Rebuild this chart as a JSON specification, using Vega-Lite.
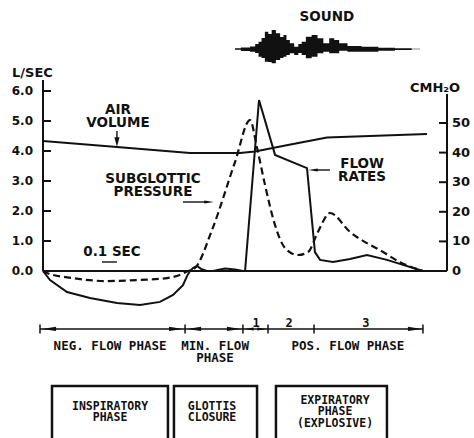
{
  "$schema": "https://vega.github.io/schema/vega-lite/v6.json",
  "width": 404,
  "height": 438,
  "autosize": {"type": "none"},
  "padding": {"left": 43, "right": 27, "top": 0, "bottom": 0},
  "background": "white",
  "config": {"view": {"stroke": null}},
  "datasets": {
    "curves": [
      {"series": "Flow rate", "t": 0, "v": 0},
      {"series": "Flow rate", "t": 0.047, "v": -0.3},
      {"series": "Flow rate", "t": 0.16, "v": -0.7},
      {"series": "Flow rate", "t": 0.313, "v": -0.9},
      {"series": "Flow rate", "t": 0.493, "v": -1.07},
      {"series": "Flow rate", "t": 0.647, "v": -1.13},
      {"series": "Flow rate", "t": 0.78, "v": -1.03},
      {"series": "Flow rate", "t": 0.867, "v": -0.8},
      {"series": "Flow rate", "t": 0.933, "v": -0.47},
      {"series": "Flow rate", "t": 0.96, "v": -0.17},
      {"series": "Flow rate", "t": 0.98, "v": 0},
      {"series": "Flow rate", "t": 1.0, "v": 0.1},
      {"series": "Flow rate", "t": 1.027, "v": 0.17},
      {"series": "Flow rate", "t": 1.053, "v": 0.07},
      {"series": "Flow rate", "t": 1.093, "v": 0},
      {"series": "Flow rate", "t": 1.133, "v": 0},
      {"series": "Flow rate", "t": 1.213, "v": 0.08},
      {"series": "Flow rate", "t": 1.28, "v": 0.05},
      {"series": "Flow rate", "t": 1.333, "v": 0},
      {"series": "Flow rate", "t": 1.347, "v": 0},
      {"series": "Flow rate", "t": 1.44, "v": 5.7},
      {"series": "Flow rate", "t": 1.547, "v": 3.87},
      {"series": "Flow rate", "t": 1.76, "v": 3.43},
      {"series": "Flow rate", "t": 1.813, "v": 0.63},
      {"series": "Flow rate", "t": 1.847, "v": 0.37},
      {"series": "Flow rate", "t": 1.933, "v": 0.3},
      {"series": "Flow rate", "t": 2.047, "v": 0.4},
      {"series": "Flow rate", "t": 2.16, "v": 0.53},
      {"series": "Flow rate", "t": 2.293, "v": 0.37},
      {"series": "Flow rate", "t": 2.533, "v": 0},
      {"series": "Air volume", "t": 0, "v": 4.33},
      {"series": "Air volume", "t": 0.493, "v": 4.13},
      {"series": "Air volume", "t": 0.98, "v": 3.93},
      {"series": "Air volume", "t": 1.313, "v": 3.93},
      {"series": "Air volume", "t": 1.413, "v": 3.98},
      {"series": "Air volume", "t": 1.633, "v": 4.2},
      {"series": "Air volume", "t": 1.893, "v": 4.45},
      {"series": "Air volume", "t": 2.56, "v": 4.57}
    ],
    "pressure": [
      {"t": 0, "p": 0},
      {"t": 0.027, "p": -0.7},
      {"t": 0.2, "p": -2.4},
      {"t": 0.427, "p": -3.4},
      {"t": 0.647, "p": -3.0},
      {"t": 0.827, "p": -2.4},
      {"t": 0.927, "p": -1.0},
      {"t": 0.967, "p": 0},
      {"t": 1.013, "p": 1.0},
      {"t": 1.127, "p": 13.9},
      {"t": 1.28, "p": 36.8},
      {"t": 1.38, "p": 51.0},
      {"t": 1.427, "p": 41.6},
      {"t": 1.48, "p": 29.1},
      {"t": 1.547, "p": 15.5},
      {"t": 1.613, "p": 7.8},
      {"t": 1.7, "p": 5.4},
      {"t": 1.767, "p": 6.4},
      {"t": 1.833, "p": 13.2},
      {"t": 1.913, "p": 19.6},
      {"t": 2.047, "p": 13.2},
      {"t": 2.267, "p": 6.4},
      {"t": 2.38, "p": 3.0},
      {"t": 2.533, "p": 0}
    ],
    "sound": [
      {"t": 1.28, "hi": 0.7, "lo": -0.7},
      {"t": 1.358, "hi": 1.5, "lo": -2},
      {"t": 1.402, "hi": 2.5, "lo": -2.7},
      {"t": 1.427, "hi": 5, "lo": -4},
      {"t": 1.447, "hi": 7.3, "lo": -7.7},
      {"t": 1.467, "hi": 11, "lo": -9},
      {"t": 1.491, "hi": 17.3, "lo": -12.7},
      {"t": 1.513, "hi": 15, "lo": -13},
      {"t": 1.536, "hi": 19, "lo": -14.3},
      {"t": 1.569, "hi": 15.7, "lo": -11},
      {"t": 1.593, "hi": 12, "lo": -9},
      {"t": 1.613, "hi": 14, "lo": -7.7},
      {"t": 1.633, "hi": 9, "lo": -6},
      {"t": 1.658, "hi": 5.7, "lo": -4.3},
      {"t": 1.691, "hi": 2.3, "lo": -6},
      {"t": 1.713, "hi": 5, "lo": -4},
      {"t": 1.736, "hi": 7.3, "lo": -6},
      {"t": 1.769, "hi": 12.3, "lo": -9.3},
      {"t": 1.813, "hi": 14, "lo": -7.7},
      {"t": 1.847, "hi": 10.7, "lo": -4.3},
      {"t": 1.891, "hi": 5.7, "lo": -2.7},
      {"t": 1.925, "hi": 10.7, "lo": -4.3},
      {"t": 1.958, "hi": 9, "lo": -4.3},
      {"t": 1.991, "hi": 5.7, "lo": -1.7},
      {"t": 2.069, "hi": 3, "lo": -2.7},
      {"t": 2.18, "hi": 2.3, "lo": -2.7},
      {"t": 2.291, "hi": 1.3, "lo": -1.7},
      {"t": 2.402, "hi": 0.7, "lo": -1},
      {"t": 2.513, "hi": 0.3, "lo": -0.3}
    ],
    "axisRules": [
      {"t": 0, "t2": 0, "v": 0, "v2": 6.37},
      {"t": 0, "t2": 2.6933, "v": 0, "v2": 0}
    ],
    "leftTicks": [
      {"v": 0}, {"v": 1}, {"v": 2}, {"v": 3}, {"v": 4}, {"v": 5}, {"v": 6}
    ],
    "rightTicks": [
      {"p": 0}, {"p": 10}, {"p": 20}, {"p": 30}, {"p": 40}, {"p": 50}
    ],
    "axisTitles": [
      {"label": "L/SEC", "t": -0.2067, "v": 6.6},
      {"label": "CMH₂O", "t": 2.4467, "v": 6.1}
    ],
    "leaders": [
      {"t": 0.393, "t2": 0.493, "v": 0.3, "v2": 0.3},
      {"t": -0.02, "t2": 2.533, "v": -1.933, "v2": -1.933},
      {"t": 0.493, "t2": 0.493, "v": 4.667, "v2": 4.35},
      {"t": 0.933, "t2": 1.09, "v": 2.3, "v2": 2.3},
      {"t": 1.82, "t2": 1.913, "v": 3.367, "v2": 3.367}
    ],
    "bigArrows": [
      {"t": 0.04, "v": -1.933, "dir": "left"},
      {"t": 0.887, "v": -1.933, "dir": "right"},
      {"t": 1.007, "v": -1.933, "dir": "left"},
      {"t": 1.273, "v": -1.933, "dir": "right"},
      {"t": 2.48, "v": -1.933, "dir": "right"}
    ],
    "smallArrows": [
      {"t": 1.373, "v": -1.933, "dir": "left"},
      {"t": 1.46, "v": -1.933, "dir": "right"},
      {"t": 0.493, "v": 4.3, "dir": "down"},
      {"t": 1.107, "v": 2.3, "dir": "right"},
      {"t": 1.8, "v": 3.367, "dir": "left"}
    ],
    "phaseTicks": [
      {"t": -0.02, "v": -1.933},
      {"t": 0.947, "v": -1.933},
      {"t": 1.333, "v": -1.933},
      {"t": 1.5, "v": -1.933},
      {"t": 1.807, "v": -1.933},
      {"t": 2.533, "v": -1.933}
    ],
    "digits": [
      {"label": "1", "t": 1.42, "v": -1.717},
      {"label": "2", "t": 1.64, "v": -1.717},
      {"label": "3", "t": 2.153, "v": -1.717}
    ],
    "phaseLabels": [
      {"label": "NEG. FLOW PHASE", "t": 0.447, "v": -2.3},
      {"label": "MIN. FLOW\nPHASE", "t": 1.147, "v": -2.3},
      {"label": "POS. FLOW PHASE", "t": 2.033, "v": -2.3}
    ],
    "boxes": [
      {"t": 0.06, "t2": 0.833, "v": -3.833, "v2": -6},
      {"t": 0.873, "t2": 1.427, "v": -3.833, "v2": -6},
      {"t": 1.553, "t2": 2.293, "v": -3.833, "v2": -6}
    ],
    "boxLabels": [
      {"label": "INSPIRATORY\nPHASE", "t": 0.447, "v": -4.533},
      {"label": "GLOTTIS\nCLOSURE", "t": 1.127, "v": -4.533},
      {"label": "EXPIRATORY\nPHASE\n(EXPLOSIVE)", "t": 1.947, "v": -4.333}
    ],
    "curveLabels": [
      {"label": "AIR\nVOLUME", "t": 0.5, "v": 5.367},
      {"label": "SUBGLOTTIC\nPRESSURE", "t": 0.733, "v": 3.067},
      {"label": "FLOW\nRATES", "t": 2.127, "v": 3.567},
      {"label": "0.1 SEC", "t": 0.46, "v": 0.633},
      {"label": "SOUND", "t": 1.893, "v": 8.467}
    ],
    "rightAxisRule": [
      {"t": 2.6933, "t2": 2.6933, "p": 0, "p2": 59.8}
    ]
  },
  "resolve": {"scale": {"y": "independent"}},
  "layer": [
    {
      "layer": [
        {
          "data": {"name": "curves"},
          "mark": {"type": "line", "color": "#111", "strokeWidth": 2},
          "encoding": {
            "x": {"field": "t", "type": "quantitative", "scale": {"domain": [0, 2.69333], "nice": false, "zero": false}, "axis": null},
            "y": {"field": "v", "type": "quantitative", "scale": {"domain": [-5.5667, 9.0333], "nice": false, "zero": false}, "axis": null},
            "detail": {"field": "series", "type": "nominal"}
          }
        },
        {
          "data": {"name": "axisRules"},
          "mark": {"type": "rule", "color": "#111", "strokeWidth": 2},
          "encoding": {
            "x": {"field": "t", "type": "quantitative", "scale": {"domain": [0, 2.69333], "nice": false, "zero": false}, "axis": null},
            "x2": {"field": "t2"},
            "y": {"field": "v", "type": "quantitative", "scale": {"domain": [-5.5667, 9.0333], "nice": false, "zero": false}, "axis": null},
            "y2": {"field": "v2"}
          }
        },
        {
          "data": {"name": "leftTicks"},
          "mark": {"type": "rule", "color": "#111", "strokeWidth": 2},
          "encoding": {
            "x": {"datum": 0, "type": "quantitative", "scale": {"domain": [0, 2.69333], "nice": false, "zero": false}, "axis": null},
            "x2": {"datum": 0.0533},
            "y": {"field": "v", "type": "quantitative", "scale": {"domain": [-5.5667, 9.0333], "nice": false, "zero": false}, "axis": null}
          }
        },
        {
          "data": {"name": "leftTicks"},
          "mark": {"type": "text", "font": "DejaVu Sans", "fontWeight": "bold", "fontSize": 12, "color": "#111", "align": "right", "baseline": "middle"},
          "encoding": {
            "x": {"datum": -0.0667, "type": "quantitative", "scale": {"domain": [0, 2.69333], "nice": false, "zero": false}, "axis": null},
            "y": {"field": "v", "type": "quantitative", "scale": {"domain": [-5.5667, 9.0333], "nice": false, "zero": false}, "axis": null},
            "text": {"field": "v", "type": "quantitative", "format": ".1f"}
          }
        },
        {
          "data": {"name": "axisTitles"},
          "mark": {"type": "text", "font": "DejaVu Sans", "fontWeight": "bold", "fontSize": 13, "color": "#111", "align": "left", "baseline": "middle"},
          "encoding": {
            "x": {"field": "t", "type": "quantitative", "scale": {"domain": [0, 2.69333], "nice": false, "zero": false}, "axis": null},
            "y": {"field": "v", "type": "quantitative", "scale": {"domain": [-5.5667, 9.0333], "nice": false, "zero": false}, "axis": null},
            "text": {"field": "label"}
          }
        },
        {
          "data": {"name": "leaders"},
          "mark": {"type": "rule", "color": "#111", "strokeWidth": 1.4},
          "encoding": {
            "x": {"field": "t", "type": "quantitative", "scale": {"domain": [0, 2.69333], "nice": false, "zero": false}, "axis": null},
            "x2": {"field": "t2"},
            "y": {"field": "v", "type": "quantitative", "scale": {"domain": [-5.5667, 9.0333], "nice": false, "zero": false}, "axis": null},
            "y2": {"field": "v2"}
          }
        },
        {
          "data": {"name": "bigArrows"},
          "mark": {"type": "point", "filled": true, "color": "#111", "opacity": 1, "size": 200},
          "encoding": {
            "x": {"field": "t", "type": "quantitative", "scale": {"domain": [0, 2.69333], "nice": false, "zero": false}, "axis": null},
            "y": {"field": "v", "type": "quantitative", "scale": {"domain": [-5.5667, 9.0333], "nice": false, "zero": false}, "axis": null},
            "shape": {"field": "dir", "type": "nominal", "legend": null, "scale": {"domain": ["left", "right", "down"], "range": ["M-1,0L1,-0.3L1,0.3Z", "M1,0L-1,-0.3L-1,0.3Z", "M0,1L-0.55,-1L0.55,-1Z"]}}
          }
        },
        {
          "data": {"name": "smallArrows"},
          "mark": {"type": "point", "filled": true, "color": "#111", "opacity": 1, "size": 90},
          "encoding": {
            "x": {"field": "t", "type": "quantitative", "scale": {"domain": [0, 2.69333], "nice": false, "zero": false}, "axis": null},
            "y": {"field": "v", "type": "quantitative", "scale": {"domain": [-5.5667, 9.0333], "nice": false, "zero": false}, "axis": null},
            "shape": {"field": "dir", "type": "nominal", "legend": null, "scale": {"domain": ["left", "right", "down"], "range": ["M-1,0L1,-0.45L1,0.45Z", "M1,0L-1,-0.45L-1,0.45Z", "M0,1L-0.55,-1L0.55,-1Z"]}}
          }
        },
        {
          "data": {"name": "phaseTicks"},
          "mark": {"type": "tick", "orient": "vertical", "color": "#111", "thickness": 1.5, "size": 9, "opacity": 1},
          "encoding": {
            "x": {"field": "t", "type": "quantitative", "scale": {"domain": [0, 2.69333], "nice": false, "zero": false}, "axis": null},
            "y": {"field": "v", "type": "quantitative", "scale": {"domain": [-5.5667, 9.0333], "nice": false, "zero": false}, "axis": null}
          }
        },
        {
          "data": {"name": "boxes"},
          "mark": {"type": "rect", "filled": false, "stroke": "#111", "strokeWidth": 2.5, "clip": true},
          "encoding": {
            "x": {"field": "t", "type": "quantitative", "scale": {"domain": [0, 2.69333], "nice": false, "zero": false}, "axis": null},
            "x2": {"field": "t2"},
            "y": {"field": "v", "type": "quantitative", "scale": {"domain": [-5.5667, 9.0333], "nice": false, "zero": false}, "axis": null},
            "y2": {"field": "v2"}
          }
        },
        {
          "data": {"name": "digits"},
          "mark": {"type": "text", "font": "DejaVu Sans Mono", "fontWeight": "bold", "fontSize": 12, "color": "#111", "align": "center", "baseline": "middle"},
          "encoding": {
            "x": {"field": "t", "type": "quantitative", "scale": {"domain": [0, 2.69333], "nice": false, "zero": false}, "axis": null},
            "y": {"field": "v", "type": "quantitative", "scale": {"domain": [-5.5667, 9.0333], "nice": false, "zero": false}, "axis": null},
            "text": {"field": "label"}
          }
        },
        {
          "data": {"name": "phaseLabels"},
          "mark": {"type": "text", "font": "DejaVu Sans Mono", "fontWeight": "bold", "fontSize": 12.5, "color": "#111", "align": "center", "baseline": "top", "lineBreak": "\n", "lineHeight": 12.5},
          "encoding": {
            "x": {"field": "t", "type": "quantitative", "scale": {"domain": [0, 2.69333], "nice": false, "zero": false}, "axis": null},
            "y": {"field": "v", "type": "quantitative", "scale": {"domain": [-5.5667, 9.0333], "nice": false, "zero": false}, "axis": null},
            "text": {"field": "label"}
          }
        },
        {
          "data": {"name": "boxLabels"},
          "mark": {"type": "text", "font": "DejaVu Sans Mono", "fontWeight": "bold", "fontSize": 11.5, "color": "#111", "align": "center", "baseline": "middle", "lineBreak": "\n", "lineHeight": 11.5},
          "encoding": {
            "x": {"field": "t", "type": "quantitative", "scale": {"domain": [0, 2.69333], "nice": false, "zero": false}, "axis": null},
            "y": {"field": "v", "type": "quantitative", "scale": {"domain": [-5.5667, 9.0333], "nice": false, "zero": false}, "axis": null},
            "text": {"field": "label"}
          }
        },
        {
          "data": {"name": "curveLabels"},
          "mark": {"type": "text", "font": "DejaVu Sans", "fontWeight": "bold", "fontSize": 13.5, "color": "#111", "align": "center", "baseline": "middle", "lineBreak": "\n", "lineHeight": 13},
          "encoding": {
            "x": {"field": "t", "type": "quantitative", "scale": {"domain": [0, 2.69333], "nice": false, "zero": false}, "axis": null},
            "y": {"field": "v", "type": "quantitative", "scale": {"domain": [-5.5667, 9.0333], "nice": false, "zero": false}, "axis": null},
            "text": {"field": "label"}
          }
        }
      ]
    },
    {
      "layer": [
        {
          "data": {"name": "pressure"},
          "mark": {"type": "line", "color": "#111", "strokeWidth": 2.2, "strokeDash": [7, 4], "interpolate": "monotone"},
          "encoding": {
            "x": {"field": "t", "type": "quantitative", "scale": {"domain": [0, 2.69333], "nice": false, "zero": false}, "axis": null},
            "y": {"field": "p", "type": "quantitative", "scale": {"domain": [-56.419, 91.554], "nice": false, "zero": false}, "axis": null}
          }
        },
        {
          "data": {"name": "rightAxisRule"},
          "mark": {"type": "rule", "color": "#111", "strokeWidth": 2},
          "encoding": {
            "x": {"field": "t", "type": "quantitative", "scale": {"domain": [0, 2.69333], "nice": false, "zero": false}, "axis": null},
            "x2": {"field": "t2"},
            "y": {"field": "p", "type": "quantitative", "scale": {"domain": [-56.419, 91.554], "nice": false, "zero": false}, "axis": null},
            "y2": {"field": "p2"}
          }
        },
        {
          "data": {"name": "rightTicks"},
          "mark": {"type": "rule", "color": "#111", "strokeWidth": 2},
          "encoding": {
            "x": {"datum": 2.64, "type": "quantitative", "scale": {"domain": [0, 2.69333], "nice": false, "zero": false}, "axis": null},
            "x2": {"datum": 2.6933},
            "y": {"field": "p", "type": "quantitative", "scale": {"domain": [-56.419, 91.554], "nice": false, "zero": false}, "axis": null}
          }
        },
        {
          "data": {"name": "rightTicks"},
          "mark": {"type": "text", "font": "DejaVu Sans", "fontWeight": "bold", "fontSize": 13, "color": "#111", "align": "left", "baseline": "middle"},
          "encoding": {
            "x": {"datum": 2.7267, "type": "quantitative", "scale": {"domain": [0, 2.69333], "nice": false, "zero": false}, "axis": null},
            "y": {"field": "p", "type": "quantitative", "scale": {"domain": [-56.419, 91.554], "nice": false, "zero": false}, "axis": null},
            "text": {"field": "p", "type": "quantitative", "format": "d"}
          }
        }
      ]
    },
    {
      "data": {"name": "sound"},
      "mark": {"type": "area", "color": "#111", "opacity": 1, "interpolate": "step"},
      "encoding": {
        "x": {"field": "t", "type": "quantitative", "scale": {"domain": [0, 2.69333], "nice": false, "zero": false}, "axis": null},
        "y": {"field": "hi", "type": "quantitative", "scale": {"domain": [-389, 49], "nice": false, "zero": false}, "axis": null},
        "y2": {"field": "lo"}
      }
    }
  ]
}
